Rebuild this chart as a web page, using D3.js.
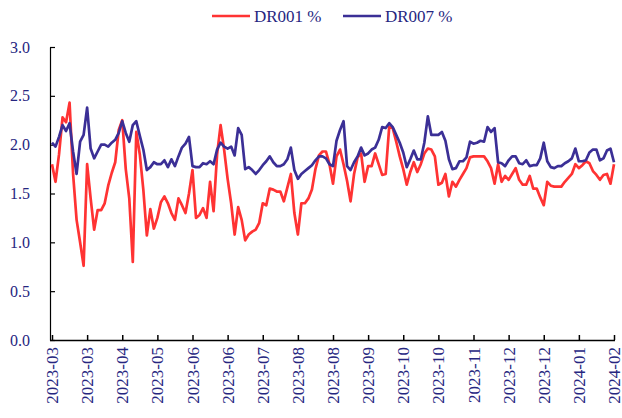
<!DOCTYPE html>
<html>
<head>
<meta charset="utf-8">
<script src="https://cdn.jsdelivr.net/npm/d3@7"></script>
<style>
  html, body { margin: 0; padding: 0; background: #ffffff; }
  svg { display: block; }
</style>
</head>
<body>
<svg id="chart" width="622" height="418"></svg>
<script>
// Series names (legend)
const seriesNames = ["DR001 %", "DR007 %"];

// Tick labels along the x axis (one every 10 observations)
const tickLabels = [
  "2023-03", "2023-03", "2023-04", "2023-05", "2023-06", "2023-06",
  "2023-07", "2023-08", "2023-08", "2023-09", "2023-10", "2023-10",
  "2023-11", "2023-12", "2023-12", "2024-01", "2024-02"
];
const tickEvery = 10;

// DR001 (overnight repo) %
const dr001 = [
  1.80, 1.62, 1.90, 2.28, 2.23, 2.43, 1.70, 1.23, 1.00, 0.76,
  1.80, 1.45, 1.13, 1.33, 1.33, 1.40, 1.58, 1.71, 1.82, 2.15,
  2.25, 1.75, 1.45, 0.80, 2.13, 1.90, 1.54, 1.07, 1.34, 1.14,
  1.25, 1.41, 1.47, 1.40, 1.30, 1.23, 1.45, 1.38, 1.30, 1.50,
  1.74, 1.25, 1.28, 1.35, 1.25, 1.62, 1.32, 1.90, 2.20, 1.95,
  1.65, 1.40, 1.08, 1.36, 1.23, 1.02, 1.08, 1.11, 1.13, 1.20,
  1.40, 1.38, 1.55, 1.54, 1.52, 1.52, 1.42, 1.56, 1.70, 1.30,
  1.08, 1.40, 1.40, 1.45, 1.54, 1.75, 1.89, 1.93, 1.93, 1.80,
  1.60, 1.88, 1.95, 1.80, 1.63, 1.42, 1.70, 1.87, 1.91, 1.62,
  1.78, 1.78, 1.91, 1.80, 1.69, 1.70, 2.18, 2.17, 2.03, 1.88,
  1.75, 1.59, 1.72, 1.82, 1.72, 1.80, 1.91, 1.96, 1.95, 1.88,
  1.59, 1.61, 1.70, 1.47, 1.62, 1.57, 1.64, 1.70, 1.76, 1.87,
  1.88, 1.88, 1.88, 1.88, 1.83, 1.76, 1.60, 1.80, 1.62, 1.68,
  1.64, 1.70, 1.76, 1.64, 1.59, 1.59, 1.68, 1.55, 1.55, 1.46,
  1.38, 1.62, 1.58, 1.57, 1.57, 1.57, 1.62, 1.66, 1.70, 1.80,
  1.76, 1.79, 1.83, 1.81, 1.73, 1.69, 1.64, 1.69, 1.70, 1.60,
  1.80
];

// DR007 (7-day repo) %
const dr007 = [
  2.02, 1.98, 2.08, 2.20, 2.14, 2.22, 1.93, 1.70, 2.03, 2.10,
  2.38, 1.96, 1.86, 1.93, 2.00, 2.00, 1.98, 2.02, 2.05, 2.12,
  2.24, 2.12, 2.03, 2.20, 2.24, 2.09, 1.95, 1.74, 1.77, 1.82,
  1.80, 1.80, 1.84, 1.77, 1.85, 1.78, 1.88, 1.97, 2.01, 2.08,
  1.78, 1.77, 1.77, 1.81, 1.80, 1.83, 1.80, 1.95, 2.02, 1.98,
  1.96, 1.98, 1.89, 2.17, 2.10, 1.75, 1.77, 1.74, 1.70, 1.74,
  1.79, 1.83, 1.88, 1.82, 1.78, 1.78, 1.80, 1.85, 1.97, 1.74,
  1.65, 1.70, 1.73, 1.76, 1.79, 1.84, 1.88, 1.88, 1.86, 1.80,
  1.78, 2.04, 2.15, 2.24, 1.78, 1.74, 1.82, 1.88, 1.97, 1.89,
  1.91, 1.95, 1.97, 2.05, 2.18, 2.17, 2.22, 2.18, 2.10, 2.02,
  1.92, 1.77, 1.85, 1.94, 1.85, 1.85, 2.02, 2.29, 2.10, 2.10,
  2.10, 2.13, 2.04, 1.85, 1.75, 1.76, 1.83, 1.83, 1.87, 2.03,
  2.01, 2.02, 2.04, 2.03, 2.18, 2.13, 2.17, 1.82, 1.81, 1.78,
  1.84, 1.88, 1.88, 1.81, 1.80, 1.84, 1.78, 1.79, 1.79, 1.86,
  2.02, 1.83, 1.77, 1.76, 1.78, 1.78, 1.81, 1.83, 1.86, 1.96,
  1.83, 1.83, 1.84, 1.92, 1.95, 1.95, 1.84, 1.86, 1.94, 1.96,
  1.82
];

const colors = ["#ff3333", "#3b2f96"];
const textColor = "#26267f";
const font = "Liberation Serif, DejaVu Serif, serif";

const svg = d3.select("#chart");
const margin = { top: 47, right: 7, bottom: 78, left: 50 };
const width = 622, height = 418;
const innerWidth = width - margin.left - margin.right;
const innerHeight = height - margin.top - margin.bottom;

const g = svg.append("g").attr("transform", `translate(${margin.left},${margin.top})`);

const n = dr001.length;
const x = d3.scaleLinear().domain([0, n - 1]).range([2, innerWidth - 1]);
const y = d3.scaleLinear().domain([0, 3]).range([innerHeight, 0]);

// y axis, ticks pointing inward
const yAxis = g.append("g")
  .attr("font-family", font).attr("font-size", 16)
  .call(d3.axisLeft(y).tickValues(d3.range(0, 3.01, 0.5))
    .tickFormat(d3.format(".1f"))
    .tickSizeInner(-5).tickSizeOuter(0).tickPadding(20));
yAxis.attr("font-family", font).attr("font-size", 16);
yAxis.select(".domain").attr("stroke", "#000").attr("stroke-width", 1.2);
yAxis.selectAll(".tick line").attr("stroke", "#000").attr("stroke-width", 1.2);
yAxis.selectAll("text").attr("fill", textColor);

// x axis: ticks from the scale, labels drawn as rotated text
const tickIdx = tickLabels.map((_d, i) => i * tickEvery);
const xAxis = g.append("g")
  .attr("transform", `translate(0,${innerHeight})`)
  .call(d3.axisBottom(x).tickValues(tickIdx)
    .tickFormat("")
    .tickSizeInner(-5).tickSizeOuter(0));
xAxis.select(".domain").attr("stroke", "#000").attr("stroke-width", 1.5)
  .attr("d", `M0,0.5H${innerWidth}`);
xAxis.selectAll(".tick line").attr("stroke", "#000").attr("stroke-width", 1.5);
xAxis.selectAll(".tick text").remove();

g.append("g")
  .attr("font-family", font).attr("font-size", 17)
  .attr("fill", textColor).attr("text-anchor", "end")
  .selectAll("text")
  .data(tickIdx)
  .join("text")
  .attr("transform", (d) => `translate(${x(d) + 6},${innerHeight + 7}) rotate(-90)`)
  .text((_d, i) => tickLabels[i]);

const line = d3.line()
  .x((_d, i) => x(i))
  .y(d => y(d));

[dr001, dr007].forEach((values, k) => {
  g.append("path")
    .datum(values)
    .attr("fill", "none")
    .attr("stroke", colors[k])
    .attr("stroke-width", 2.7)
    .attr("stroke-linejoin", "round")
    .attr("d", line);
});

// legend across the top
const legend = svg.append("g")
  .attr("transform", "translate(212,16)")
  .attr("font-family", font).attr("font-size", 17);
const legendX = [0, 131];
seriesNames.forEach((name, k) => {
  const item = legend.append("g").attr("transform", `translate(${legendX[k]},0)`);
  item.append("line")
    .attr("x1", 0).attr("x2", 38).attr("y1", 0).attr("y2", 0)
    .attr("stroke", colors[k]).attr("stroke-width", 2.7);
  item.append("text")
    .attr("x", 42).attr("y", 6)
    .attr("fill", textColor)
    .text(name);
});
</script>
</body>
</html>
